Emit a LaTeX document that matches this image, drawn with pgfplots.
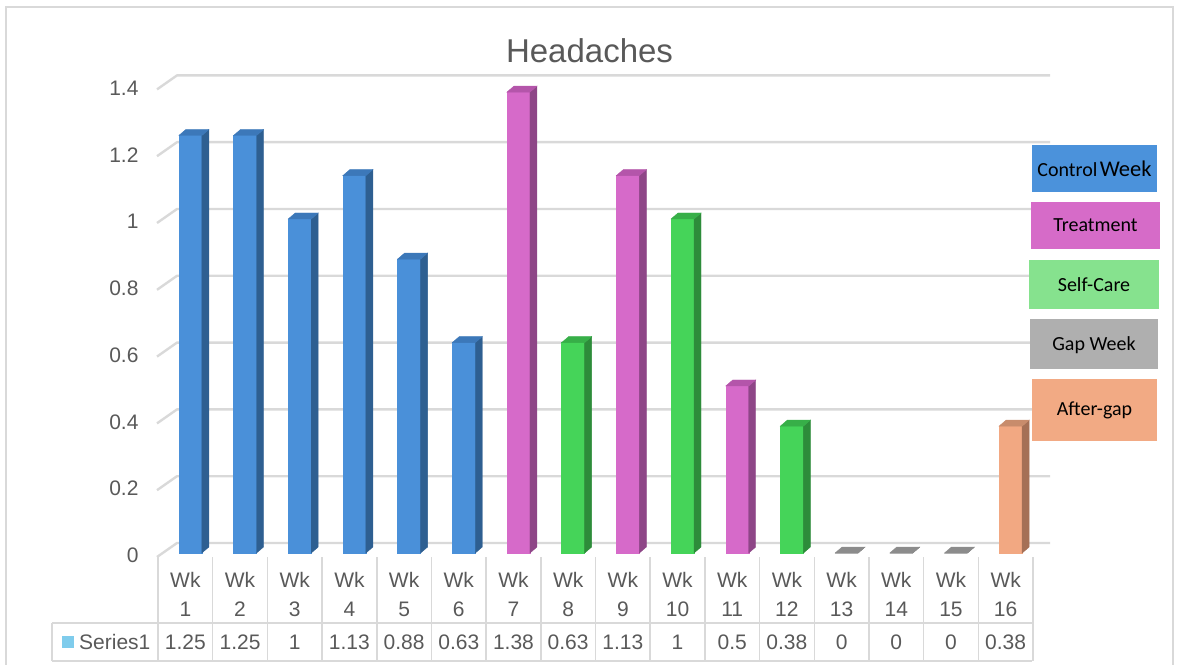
\documentclass[border=0pt]{standalone}
\usepackage{pgfplots}
\pgfplotsset{compat=1.18}
\usepackage{fontspec}
\setmainfont{Liberation Sans}
\newfontfamily\legfont{Carlito}
\definecolor{txt}{HTML}{595959}
\definecolor{gridc}{HTML}{D9D9D9}
\definecolor{cF}{HTML}{4A90D9}\definecolor{cT}{HTML}{3C78B9}\definecolor{cS}{HTML}{2E5F91}
\definecolor{tF}{HTML}{D66AC9}\definecolor{tT}{HTML}{B455AA}\definecolor{tS}{HTML}{8E4687}
\definecolor{sF}{HTML}{45D459}\definecolor{sT}{HTML}{37AF48}\definecolor{sS}{HTML}{2D8C3A}
\definecolor{gF}{HTML}{A0A0A0}\definecolor{gT}{HTML}{8C8C8C}\definecolor{gS}{HTML}{707070}
\definecolor{aF}{HTML}{F2A882}\definecolor{aT}{HTML}{C88C6C}\definecolor{aS}{HTML}{A57056}
\definecolor{legC}{HTML}{4B92DB}
\definecolor{legT}{HTML}{D66BC8}
\definecolor{legS}{HTML}{86E28E}
\definecolor{legG}{HTML}{AFAFAF}
\definecolor{legA}{HTML}{F2AA84}
\definecolor{serc}{HTML}{7FCCEC}
\pgfdeclareplotmark{empty}{}
\pgfplotsset{
  bar3d/.style n args={3}{
    only marks, mark=empty, scatter,
    visualization depends on={rawy \as \bv},
    scatter/@pre marker code/.code={%
      \pgfmathsetmacro\H{\bv*334}%
      \pgfmathsetmacro\Hb{6-\H}%
      \fill[#1] (-6.5pt,0pt) rectangle (16.5pt,-\H pt);
      \fill[#3] (16.5pt,0pt) -- (23.5pt,6pt) -- (23.5pt,\Hb pt) -- (16.5pt,-\H pt) -- cycle;
      \fill[#2] (-6.5pt,0pt) -- (16.5pt,0pt) -- (23.5pt,6pt) -- (0.5pt,6pt) -- cycle;
    },
    scatter/@post marker code/.code={},
  },
}
\begin{document}
\begin{tikzpicture}[x=1pt,y=1pt]
\path[use as bounding box] (0,0) rectangle (1177,664);
% outer frame
\draw[gridc, line width=2pt] (6,-10) -- (6,657) -- (1173,657) -- (1173,-10);
% title
\node[anchor=base, text=txt, font=\fontsize{33}{38}\selectfont] at (589.5,601) {Headaches};
% gridlines (3D walls)
\foreach \v in {0,0.2,0.4,0.6,0.8,1,1.2,1.4}{
  \draw[gridc, line width=2.4pt, line join=round] (157,{111+334*\v-4}) -- (177,{111+334*\v+10}) -- (1050,{111+334*\v+10});
}
\begin{axis}[
  at={(158pt,111pt)}, anchor=south west,
  scale only axis, width=875pt, height=467.6pt,
  xmin=0.5, xmax=16.5, ymin=0, ymax=1.4,
  axis line style={draw=none}, tick style={draw=none},
  xtick=\empty,
  ytick={0,0.2,0.4,0.6,0.8,1,1.2,1.4},
  yticklabel style={font=\fontsize{21}{24}\selectfont, text=txt, xshift=-16pt, yshift=-2.5pt},
  /pgf/number format/assume math mode=true,
  clip=false,
]
\addplot[bar3d={cF}{cT}{cS}] coordinates {(1,1.25) (2,1.25) (3,1) (4,1.13) (5,0.88) (6,0.63)};
\addplot[bar3d={tF}{tT}{tS}] coordinates {(7,1.38) (9,1.13) (11,0.5)};
\addplot[bar3d={sF}{sT}{sS}] coordinates {(8,0.63) (10,1) (12,0.38)};
\addplot[bar3d={gF}{gT}{gS}] coordinates {(13,0) (14,0) (15,0)};
\addplot[bar3d={aF}{aT}{aS}] coordinates {(16,0.38)};
\end{axis}
% data table
\foreach \k in {0,...,16}{
  \draw[gridc, line width=1.5pt] ({158+\k*54.6875},107) -- ({158+\k*54.6875},3);
}
\draw[gridc, line width=1.5pt] (52,41) -- (1032,41);
\draw[gridc, line width=1.5pt] (52,3) -- (1032,3);
\draw[gridc, line width=1.5pt] (52,41) -- (52,3);
\foreach \k/\val in {1/1.25,2/1.25,3/1,4/1.13,5/0.88,6/0.63,7/1.38,8/0.63,9/1.13,10/1,11/0.5,12/0.38,13/0,14/0,15/0,16/0.38}{
  \node[text=txt, font=\fontsize{21}{24}\selectfont] at ({158+(\k-0.5)*54.6875},84) {Wk};
  \node[text=txt, font=\fontsize{21}{24}\selectfont] at ({158+(\k-0.5)*54.6875},55) {\k};
  \node[text=txt, font=\fontsize{21}{24}\selectfont] at ({158+(\k-0.5)*54.6875},22) {\val};
}
\fill[serc] (62,16) rectangle (74,28);
\node[anchor=west, inner sep=0pt, text=txt, font=\fontsize{21}{24}\selectfont] at (79,22) {Series1};
% category boxes
\fill[legC] (1032,472) rectangle (1157,519);
\node[font=\legfont] at (1094.5,495.5) {{\fontsize{20}{24}\selectfont Control} {\fontsize{22.5}{26}\selectfont Week}};
\fill[legT] (1031,415) rectangle (1160,462);
\node[font=\legfont\fontsize{20}{24}\selectfont] at (1095.5,438.5) {Treatment};
\fill[legS] (1029,355) rectangle (1159,404);
\node[font=\legfont\fontsize{20}{24}\selectfont] at (1094,379.5) {Self-Care};
\fill[legG] (1030,295) rectangle (1158,345);
\node[font=\legfont\fontsize{20}{24}\selectfont] at (1094,319) {Gap Week};
\fill[legA] (1032,223) rectangle (1157,285);
\node[font=\legfont\fontsize{20}{24}\selectfont] at (1094.5,254) {After-gap};
\end{tikzpicture}
\end{document}
